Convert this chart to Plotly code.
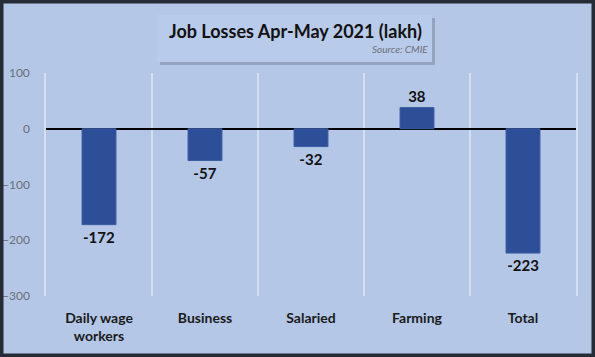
import plotly.graph_objects as go

categories = ["Daily wage<br>workers", "Business", "Salaried", "Farming", "Total"]
values = [-172, -57, -32, 38, -223]
y_ticks = [100, 0, -100, -200, -300]

BG = "#b4c7e7"
BAR = "#2c4f97"
GRID = "#d6dfee"

fig = go.Figure()
fig.add_trace(go.Bar(
    x=categories, y=values,
    marker=dict(color=BAR, line=dict(color="#3a5da3", width=1)),
    width=0.32,
    text=[str(v) for v in values],
    textposition="outside",
    textfont=dict(family="Lato", size=15, color="#111111", weight="bold"),
    cliponaxis=False,
))

fig.update_layout(
    width=595, height=357,
    margin=dict(l=46, r=19, t=73, b=61, autoexpand=False),
    paper_bgcolor=BG, plot_bgcolor=BG,
    showlegend=False,
    xaxis=dict(
        type="category", tickson="boundaries", showgrid=True, automargin=False,
        gridcolor=GRID, gridwidth=1.5, showline=False, zeroline=False,
        ticks="", ticklabelstandoff=12,
        tickfont=dict(family="Lato", size=14, color="#1a1a1a", weight="bold"),
    ),
    yaxis=dict(
        range=[-300, 100], tickvals=y_ticks, showgrid=False, automargin=False,
        zeroline=True, zerolinecolor="#000000", zerolinewidth=1.5,
        showline=True, mirror=True, linecolor=GRID, linewidth=1.5,
        ticks="", ticklabelstandoff=12,
        tickfont=dict(family="Lato", size=12, color="#6b6f78"),
    ),
    shapes=[
        # outer dark frame
        dict(type="rect", xref="paper", yref="paper", x0=-46/530, x1=1+19/530,
             y0=-61/223, y1=1+73/223, line=dict(color="#262b38", width=7),
             fillcolor="rgba(0,0,0,0)", layer="above"),
        # title box shadow
        dict(type="rect", xref="paper", yref="paper",
             x0=(160-46)/530, x1=(435-46)/530,
             y0=(357-65-61)/223, y1=(357-18-61)/223,
             line=dict(width=0), fillcolor="rgba(90,100,120,0.35)", layer="below"),
        # title box
        dict(type="rect", xref="paper", yref="paper",
             x0=(157-46)/530, x1=(432-46)/530,
             y0=(357-62-61)/223, y1=(357-15-61)/223,
             line=dict(width=0), fillcolor="#b9cbea", layer="below"),
    ],
    annotations=[
        dict(text="Job Losses Apr-May 2021 (lakh)", xref="paper", yref="paper",
             x=(295-46)/530, y=(357-31-61)/223, xanchor="center", yanchor="middle",
             showarrow=False,
             font=dict(family="Lato", size=18, color="#111111", weight="bold")),
        dict(text="<i>Source: CMIE</i>", xref="paper", yref="paper",
             x=(430-46)/530, y=(357-49-61)/223, xanchor="right", yanchor="middle",
             showarrow=False,
             font=dict(family="Lato", size=10, color="#6b6f78")),
    ],
)

fig.write_html("out.html")
